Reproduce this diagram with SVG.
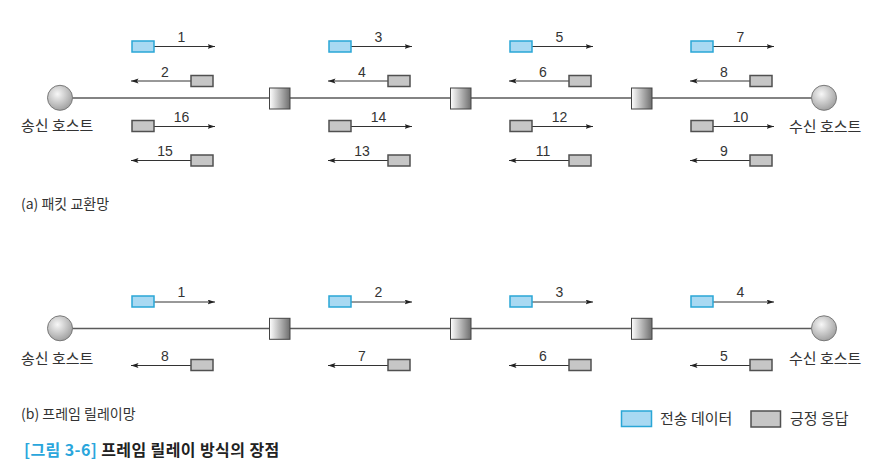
<svg xmlns="http://www.w3.org/2000/svg" width="883" height="471" viewBox="0 0 883 471">
<defs>
<radialGradient id="hostGrad" cx="0.4" cy="0.35" r="0.7">
<stop offset="0" stop-color="#f7f7f7"/>
<stop offset="1" stop-color="#9c9c9c"/>
</radialGradient>
<linearGradient id="swGrad" x1="0" y1="0" x2="1" y2="0">
<stop offset="0" stop-color="#ffffff"/>
<stop offset="1" stop-color="#6e6e6e"/>
</linearGradient>
<marker id="ah" markerUnits="userSpaceOnUse" markerWidth="8" markerHeight="6" refX="7.5" refY="2.5" orient="auto">
<path d="M0,0 L7.5,2.5 L0,5 L1.5,2.5 z" fill="#222"/>
</marker>
<style>
.host{fill:url(#hostGrad);stroke:#7a7a7a;stroke-width:1}
.sw{fill:url(#swGrad);stroke:#444;stroke-width:1}
.data{fill:#a9d9f2;stroke:#2aa6d6;stroke-width:1.5}
.ack{fill:#c6c6c6;stroke:#505050;stroke-width:1.5}
.main{stroke:#5a5a5a;stroke-width:1.3;fill:none}
.arr{stroke:#333;stroke-width:1;fill:none;marker-end:url(#ah)}
.num{font-family:"Liberation Sans",Arial,sans-serif;font-size:14px;fill:#333;text-anchor:middle}
.kr{font-family:"Noto Sans CJK KR","Noto Sans",sans-serif;font-size:15px;fill:#333}
.sub{font-family:"Noto Sans CJK KR","Noto Sans",sans-serif;font-size:14px;fill:#333}
.cap{font-family:"Noto Sans CJK KR","Noto Sans",sans-serif;font-size:16px;letter-spacing:0.4px;font-weight:bold;fill:#222}
</style>
</defs>
<rect width="883" height="471" fill="#ffffff"/>

<!-- connectors -->
<g id="connectors">
<line class="main" x1="72" y1="98" x2="812" y2="98"/>
<line class="main" x1="72" y1="328.5" x2="812" y2="328.5"/>
<!-- (a) row1 -->
<line class="arr" x1="154" y1="46.5" x2="215" y2="46.5"/>
<line class="arr" x1="351" y1="46.5" x2="412" y2="46.5"/>
<line class="arr" x1="532" y1="46.5" x2="593" y2="46.5"/>
<line class="arr" x1="713" y1="46.5" x2="774" y2="46.5"/>
<!-- row2 -->
<line class="arr" x1="191" y1="81" x2="131" y2="81"/>
<line class="arr" x1="388" y1="81" x2="328" y2="81"/>
<line class="arr" x1="569" y1="81" x2="509" y2="81"/>
<line class="arr" x1="750" y1="81" x2="690" y2="81"/>
<!-- row3 -->
<line class="arr" x1="154" y1="126.5" x2="215" y2="126.5"/>
<line class="arr" x1="351" y1="126.5" x2="412" y2="126.5"/>
<line class="arr" x1="532" y1="126.5" x2="593" y2="126.5"/>
<line class="arr" x1="713" y1="126.5" x2="774" y2="126.5"/>
<!-- row4 -->
<line class="arr" x1="191" y1="160.5" x2="131" y2="160.5"/>
<line class="arr" x1="388" y1="160.5" x2="328" y2="160.5"/>
<line class="arr" x1="569" y1="160.5" x2="509" y2="160.5"/>
<line class="arr" x1="750" y1="160.5" x2="690" y2="160.5"/>
<!-- (b) row1 -->
<line class="arr" x1="154" y1="302" x2="215" y2="302"/>
<line class="arr" x1="351" y1="302" x2="412" y2="302"/>
<line class="arr" x1="532" y1="302" x2="593" y2="302"/>
<line class="arr" x1="713" y1="302" x2="774" y2="302"/>
<!-- (b) row2 -->
<line class="arr" x1="191" y1="365.5" x2="131" y2="365.5"/>
<line class="arr" x1="388" y1="365.5" x2="328" y2="365.5"/>
<line class="arr" x1="569" y1="365.5" x2="509" y2="365.5"/>
<line class="arr" x1="750" y1="365.5" x2="690" y2="365.5"/>
</g>

<!-- (a) nodes -->
<g id="a-sender"><circle class="host" cx="60" cy="97.8" r="12.5"/><text class="kr" x="21" y="131">송신 호스트</text></g>
<g id="a-switch1"><rect class="sw" x="269.5" y="88" width="20.5" height="21"/></g>
<g id="a-switch2"><rect class="sw" x="450.5" y="88" width="20.5" height="21"/></g>
<g id="a-switch3"><rect class="sw" x="631.5" y="88" width="20.5" height="21"/></g>
<g id="a-receiver"><circle class="host" cx="824" cy="97.8" r="12.5"/><text class="kr" x="789" y="132">수신 호스트</text></g>

<g id="a-p1"><rect class="data" x="132" y="41" width="22" height="11"/><text class="num" x="181.5" y="41.5">1</text></g>
<g id="a-p3"><rect class="data" x="329" y="41" width="22" height="11"/><text class="num" x="378.5" y="41.5">3</text></g>
<g id="a-p5"><rect class="data" x="510" y="41" width="22" height="11"/><text class="num" x="559.5" y="41.5">5</text></g>
<g id="a-p7"><rect class="data" x="691" y="41" width="22" height="11"/><text class="num" x="740.5" y="41.5">7</text></g>

<g id="a-p2"><rect class="ack" x="191" y="75.5" width="22" height="11"/><text class="num" x="165" y="76.5">2</text></g>
<g id="a-p4"><rect class="ack" x="388" y="75.5" width="22" height="11"/><text class="num" x="362" y="76.5">4</text></g>
<g id="a-p6"><rect class="ack" x="569" y="75.5" width="22" height="11"/><text class="num" x="543" y="76.5">6</text></g>
<g id="a-p8"><rect class="ack" x="750" y="75.5" width="22" height="11"/><text class="num" x="724" y="76.5">8</text></g>

<g id="a-p16"><rect class="ack" x="132" y="120.5" width="22" height="11"/><text class="num" x="181.5" y="121.5">16</text></g>
<g id="a-p14"><rect class="ack" x="329" y="120.5" width="22" height="11"/><text class="num" x="378.5" y="121.5">14</text></g>
<g id="a-p12"><rect class="ack" x="510" y="120.5" width="22" height="11"/><text class="num" x="559.5" y="121.5">12</text></g>
<g id="a-p10"><rect class="ack" x="691" y="120.5" width="22" height="11"/><text class="num" x="740.5" y="121.5">10</text></g>

<g id="a-p15"><rect class="ack" x="191" y="155" width="22" height="11"/><text class="num" x="165" y="155.7">15</text></g>
<g id="a-p13"><rect class="ack" x="388" y="155" width="22" height="11"/><text class="num" x="362" y="155.7">13</text></g>
<g id="a-p11"><rect class="ack" x="569" y="155" width="22" height="11"/><text class="num" x="543" y="155.7">11</text></g>
<g id="a-p9"><rect class="ack" x="750" y="155" width="22" height="11"/><text class="num" x="724" y="155.7">9</text></g>

<text id="cap-a" class="sub" x="21" y="208.5">(a) 패킷 교환망</text>

<!-- (b) nodes -->
<g id="b-sender"><circle class="host" cx="60" cy="328.3" r="12.5"/><text class="kr" x="21" y="364">송신 호스트</text></g>
<g id="b-switch1"><rect class="sw" x="269.5" y="318.3" width="20.5" height="21"/></g>
<g id="b-switch2"><rect class="sw" x="450.5" y="318.3" width="20.5" height="21"/></g>
<g id="b-switch3"><rect class="sw" x="631.5" y="318.3" width="20.5" height="21"/></g>
<g id="b-receiver"><circle class="host" cx="824" cy="328.3" r="12.5"/><text class="kr" x="789" y="364">수신 호스트</text></g>

<g id="b-p1"><rect class="data" x="132" y="296" width="22" height="11"/><text class="num" x="181.5" y="296.7">1</text></g>
<g id="b-p2"><rect class="data" x="329" y="296" width="22" height="11"/><text class="num" x="378.5" y="296.7">2</text></g>
<g id="b-p3"><rect class="data" x="510" y="296" width="22" height="11"/><text class="num" x="559.5" y="296.7">3</text></g>
<g id="b-p4"><rect class="data" x="691" y="296" width="22" height="11"/><text class="num" x="740.5" y="296.7">4</text></g>

<g id="b-p8"><rect class="ack" x="191" y="359.5" width="22" height="11"/><text class="num" x="165" y="361">8</text></g>
<g id="b-p7"><rect class="ack" x="388" y="359.5" width="22" height="11"/><text class="num" x="362" y="361">7</text></g>
<g id="b-p6"><rect class="ack" x="569" y="359.5" width="22" height="11"/><text class="num" x="543" y="361">6</text></g>
<g id="b-p5"><rect class="ack" x="750" y="359.5" width="22" height="11"/><text class="num" x="724" y="361">5</text></g>

<text id="cap-b" class="sub" x="21" y="418.5">(b) 프레임 릴레이망</text>

<!-- legend -->
<g id="legend">
<rect class="data" x="621.5" y="411" width="30" height="15.5"/>
<text class="kr" x="660" y="424">전송 데이터</text>
<rect class="ack" x="751" y="411" width="29.5" height="16"/>
<text class="kr" x="790" y="424">긍정 응답</text>
</g>

<text id="title" class="cap" x="24" y="455.5"><tspan fill="#2aa6dc">[그림 3-6]</tspan> 프레임 릴레이 방식의 장점</text>
</svg>
